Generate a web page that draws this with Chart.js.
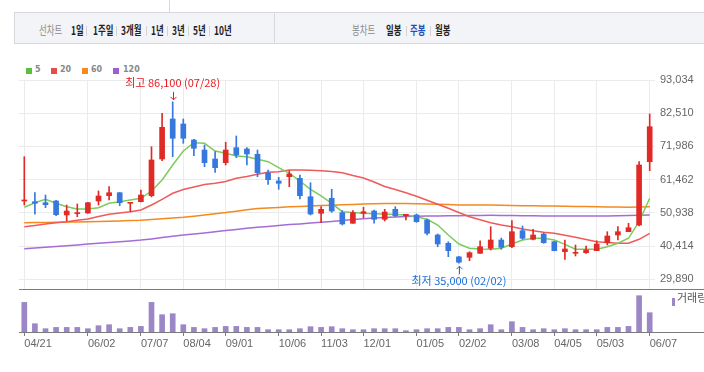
<!DOCTYPE html>
<html><head><meta charset="utf-8">
<script src="https://cdn.jsdelivr.net/npm/chart.js@4/dist/chart.umd.min.js"></script>
<style>
html,body{margin:0;padding:0;background:#fff;}
#wrap{position:relative;width:704px;height:372px;overflow:hidden;font-family:"Noto Sans CJK KR",sans-serif;}
canvas{position:absolute;left:0;top:0;}
.hdr{position:absolute;left:14px;top:12px;width:700px;height:30px;background:#f3f4f7;border:1px solid #d6d8dd;}
.vl{position:absolute;width:1px;background:#d6d8dd;}
.t{position:absolute;top:22px;font-size:12px;line-height:16px;transform:scaleX(.7);transform-origin:0 50%;white-space:nowrap;color:#222;font-weight:bold;}
.t.g{color:#8a8a8a;font-weight:normal;}
.t.on{color:#1f4fb8;}
.sep{position:absolute;top:26px;height:10px;width:1px;background:#d3d3d3;}
.lg{position:absolute;top:68px;width:6px;height:6px;}
.lt{position:absolute;top:65px;font:bold 8px "DejaVu Sans",sans-serif;line-height:10px;color:#888;}
</style></head>
<body><div id="wrap">
<div class="vl" style="left:169px;top:0;height:12px"></div>
<div class="hdr"></div>
<div class="vl" style="left:274px;top:12px;height:32px"></div>
<span class="t g" style="left:39px">선차트</span>
<span class="t" style="left:71px">1일</span><span class="sep" style="left:86px"></span>
<span class="t" style="left:93px">1주일</span><span class="sep" style="left:116px"></span>
<span class="t" style="left:121px">3개월</span><span class="sep" style="left:146px"></span>
<span class="t" style="left:151px">1년</span><span class="sep" style="left:167px"></span>
<span class="t" style="left:172px">3년</span><span class="sep" style="left:188px"></span>
<span class="t" style="left:193px">5년</span><span class="sep" style="left:209px"></span>
<span class="t" style="left:214px">10년</span>
<span class="t g" style="left:352px">봉차트</span>
<span class="t" style="left:386px">일봉</span><span class="sep" style="left:406px"></span>
<span class="t on" style="left:410px">주봉</span><span class="sep" style="left:430px"></span>
<span class="t" style="left:435px">월봉</span>
<div class="lg" style="left:26px;background:#5cbe3c"></div><span class="lt" style="left:35px">5</span>
<div class="lg" style="left:51px;background:#e84b4b"></div><span class="lt" style="left:60px">20</span>
<div class="lg" style="left:82px;background:#f58a1f"></div><span class="lt" style="left:91px">60</span>
<div class="lg" style="left:113px;background:#9c5fd0"></div><span class="lt" style="left:123px">120</span>
<canvas id="price" width="704" height="372"></canvas>
<canvas id="vol" width="704" height="372"></canvas>
<div style="position:absolute;left:672px;top:298px;width:3px;height:8px;background:#9b87c6"></div>
<span style="position:absolute;left:677px;top:290px;font-size:11px;line-height:14px;color:#555;white-space:nowrap">거래량</span>
</div>
<script>
const dates = ['04/21','04/28','05/05','05/12','05/19','05/26','06/02','06/09','06/16','06/23','06/30','07/07','07/14','07/21','07/28','08/04','08/11','08/18','08/25','09/01','09/08','09/15','09/22','09/29','10/06','10/13','10/20','10/27','11/03','11/10','11/17','11/24','12/01','12/08','12/15','12/22','12/29','01/05','01/12','01/19','01/26','02/02','02/09','02/16','02/23','03/01','03/08','03/15','03/22','03/29','04/05','04/12','04/19','04/26','05/03','05/10','05/17','05/24','05/31','06/07'];
const tickDates = ['04/21','06/02','07/07','08/04','09/01','10/06','11/03','12/01','01/05','02/02','03/08','04/05','05/03','06/07'];
const opens  = [54700,54480,54160,54700,50270,50680,50900,54700,56380,57330,53970,54480,56380,68010,80680,79100,74030,70860,68010,66840,71590,71180,69500,63570,61040,62400,61890,56060,50810,55560,51000,47640,50810,51530,48900,52070,50040,50270,48680,43930,41300,37000,36870,38130,39720,42350,40220,45290,42570,44250,41810,38640,38130,38320,38960,41490,43930,44980,47100,67150];
const highs  = [68730,57330,56600,54900,53430,53750,54300,57870,59230,57400,54290,58190,71900,82490,86100,80680,74200,72440,70320,73300,75290,71590,70860,64520,62210,64300,62940,60500,52900,58410,51630,51630,52710,51850,52070,52900,50490,50580,49000,44250,41810,37200,38640,42120,46560,42980,48460,46780,45740,44560,41900,42350,40760,40450,42120,44980,46560,47640,67150,82260];
const lows   = [53430,50490,52580,50040,48370,49730,50800,53430,55020,53210,51310,54400,56000,67470,68730,72980,69050,65570,63790,66110,68420,66110,62400,59990,58410,59230,55340,50270,47830,51120,47100,47640,49410,47640,48370,49730,48680,47950,43930,40220,37060,35000,35790,38130,39180,39400,39910,42570,42350,41300,38900,36230,37280,38130,38960,40760,42350,44980,46800,64300];
const closes = [55020,53970,53530,50360,51530,51000,54160,56290,57330,54160,54290,56600,67690,78050,74570,74570,71400,66840,65250,70860,69270,69590,63670,61450,60310,63260,56380,50580,52070,51530,47420,51000,51310,48900,51220,50040,50490,48140,44470,41080,38960,35300,38320,40220,42350,40030,44980,42890,43930,41490,38960,39500,38450,39180,41080,43610,44980,46240,66110,78240];
const volumes = [1480,415,165,230,230,230,165,315,365,165,230,280,1480,865,915,365,230,165,230,280,280,230,230,115,115,115,165,265,230,265,165,115,115,165,165,165,65,115,165,165,230,230,115,165,365,115,515,230,115,165,115,165,115,115,115,230,230,280,1815,965];
const ma5   = [52710,54160,55240,53970,52900,52170,52170,52580,53970,54480,55020,55560,57870,61350,66110,70540,73170,72980,70540,69810,68960,68740,67910,67150,65250,63480,61040,58410,56290,53970,51310,51060,50810,50680,50580,50420,50270,49730,48900,47100,43930,41080,39720,39500,39400,39720,41080,42350,42890,42890,42350,40980,39400,39400,39400,40220,41300,42890,48140,55560];
const ma20  = [46560,46970,47420,47800,48140,48590,49000,49760,50520,50900,51280,51850,53430,55240,57140,58340,59140,59930,60310,60880,61890,62460,63160,63790,63980,64520,64520,64430,64300,64050,63670,62780,61990,60720,59300,58340,57300,56190,54920,53660,52390,51060,49730,48780,47830,47100,46560,45830,45260,44820,44470,43840,43200,42500,41810,41550,41300,41300,42570,44470];
const ma60  = [47830,47890,47920,47990,48020,48080,48140,48210,48300,48400,48490,48590,48810,49060,49320,49540,49850,50230,50680,51030,51470,51910,52290,52480,52670,52900,52990,53120,53240,53370,53500,53590,53720,53810,53880,53940,53910,53850,53750,53660,53560,53430,53430,53430,53430,53340,53240,53210,53210,53150,53090,53020,52960,52930,52900,52830,52770,52710,52770,52900];
const ma120 = [39590,39810,40030,40290,40540,40790,41080,41300,41550,41780,42030,42310,42690,43110,43520,43930,44250,44600,44980,45360,45700,46050,46400,46650,46940,47260,47450,47700,47990,48240,48490,48810,49090,49320,49470,49630,49760,49850,49950,49980,50010,50040,50080,50140,50170,50140,50080,50040,50010,49980,49950,49950,49950,49950,49950,49980,50010,50080,50170,50270];
const priceTicks = [93034,82510,71986,61462,50938,40414,29890];
const priceMin = 26823, priceMax = 93034;
const volMax = 2000;

const UP = '#e12a26', DOWN = '#3678dd';
const candleColors = dates.map((d, i) => closes[i] >= opens[i] ? UP : DOWN);
const fmt = v => Math.round(v).toLocaleString('en-US');
const isTick = i => tickDates.includes(dates[i]);
Chart.defaults.font.family = '"Liberation Sans", Arial, sans-serif';

function arrow(ctx, x, from, to) {
  const px = Math.round(x) + 0.5;
  const d = to > from ? -3 : 3;
  ctx.beginPath();
  ctx.moveTo(px, from); ctx.lineTo(px, to);
  ctx.moveTo(px - 3, to + d); ctx.lineTo(px, to); ctx.lineTo(px + 3, to + d);
  ctx.stroke();
}

const annot = {
  id: 'annot',
  afterDatasetsDraw(chart) {
    const {ctx, scales: {x, y}} = chart;
    let hi = 0, lo = 0;
    highs.forEach((v, i) => { if (v > highs[hi]) hi = i; });
    lows.forEach((v, i) => { if (v < lows[lo]) lo = i; });
    ctx.save();
    ctx.font = '11px "Noto Sans CJK KR"';
    ctx.textAlign = 'center'; ctx.textBaseline = 'middle'; ctx.lineWidth = 1;
    let px = x.getPixelForValue(hi), py = y.getPixelForValue(highs[hi]);
    ctx.fillStyle = ctx.strokeStyle = '#e8191f';
    ctx.fillText('최고 ' + fmt(highs[hi]) + ' (' + dates[hi] + ')', px, py - 19);
    arrow(ctx, px, py - 10, py - 2);
    px = x.getPixelForValue(lo); py = y.getPixelForValue(lows[lo]);
    ctx.fillStyle = ctx.strokeStyle = '#1a6fd6';
    ctx.fillText('최저 ' + fmt(lows[lo]) + ' (' + dates[lo] + ')', px, py + 18);
    arrow(ctx, px, py + 11, py + 3);
    ctx.restore();
  }
};

const lineDs = (data, color, order) => ({type: 'line', data, borderColor: color, borderWidth: 1.5, pointRadius: 0, tension: 0, order});

new Chart(document.getElementById('price'), {
  type: 'bar',
  data: {
    labels: dates,
    datasets: [
      lineDs(ma120, '#a56cd6', 5),
      lineDs(ma60, '#f28a1f', 4),
      lineDs(ma20, '#f05a5a', 3),
      lineDs(ma5, '#7ccb5e', 2),
      {data: dates.map((d, i) => [lows[i], highs[i]]), backgroundColor: candleColors, barThickness: 1, grouped: false, order: 1},
      {data: dates.map((d, i) => [opens[i], closes[i]]), backgroundColor: candleColors, barThickness: 5, grouped: false, minBarLength: 1, order: 0}
    ]
  },
  options: {
    responsive: false, animation: false, events: [],
    layout: {padding: {top: 80, left: 19, right: 0, bottom: 83}},
    plugins: {legend: {display: false}, tooltip: {enabled: false}},
    scales: {
      x: {offset: true, ticks: {display: false},
          grid: {offset: false, drawTicks: false, color: c => isTick(c.index) ? '#ebebeb' : 'rgba(0,0,0,0)'},
          border: {display: false}},
      y: {position: 'right', min: priceMin, max: priceMax, bounds: 'data',
          afterBuildTicks: s => { s.ticks = priceTicks.map(v => ({value: v})); },
          afterFit: s => { s.width = 49; },
          ticks: {padding: 5, color: '#666', font: {size: 11}, callback: v => fmt(v)},
          grid: {color: '#ebebeb', drawTicks: false}, border: {display: false}}
    }
  },
  plugins: [annot]
});

const seps = {
  id: 'seps',
  afterDraw(chart) {
    const c = chart.ctx; c.save(); c.fillStyle = '#7b7b7b';
    c.fillRect(19, 289, 685, 1);
    c.fillRect(19, chart.chartArea.bottom, 685, 1);
    c.restore();
  }
};

new Chart(document.getElementById('vol'), {
  type: 'bar',
  data: {labels: dates, datasets: [{data: volumes, backgroundColor: '#9b87c6', barThickness: 5}]},
  options: {
    responsive: false, animation: false, events: [],
    layout: {padding: {top: 292, left: 19, right: 49, bottom: 20}},
    plugins: {legend: {display: false}, tooltip: {enabled: false}},
    scales: {
      x: {offset: true, afterFit: s => { s.height = 20; },
          grid: {offset: false, drawOnChartArea: false, tickLength: 4, tickColor: c => isTick(c.index) ? '#7b7b7b' : 'rgba(0,0,0,0)'},
          border: {display: false},
          ticks: {autoSkip: false, maxRotation: 0, align: 'start', padding: 1, color: '#666', font: {size: 11},
                  callback: (v, i) => isTick(i) ? dates[i] : ''}},
      y: {display: false, min: 0, max: volMax}
    }
  },
  plugins: [seps]
});
</script>
</body></html>
